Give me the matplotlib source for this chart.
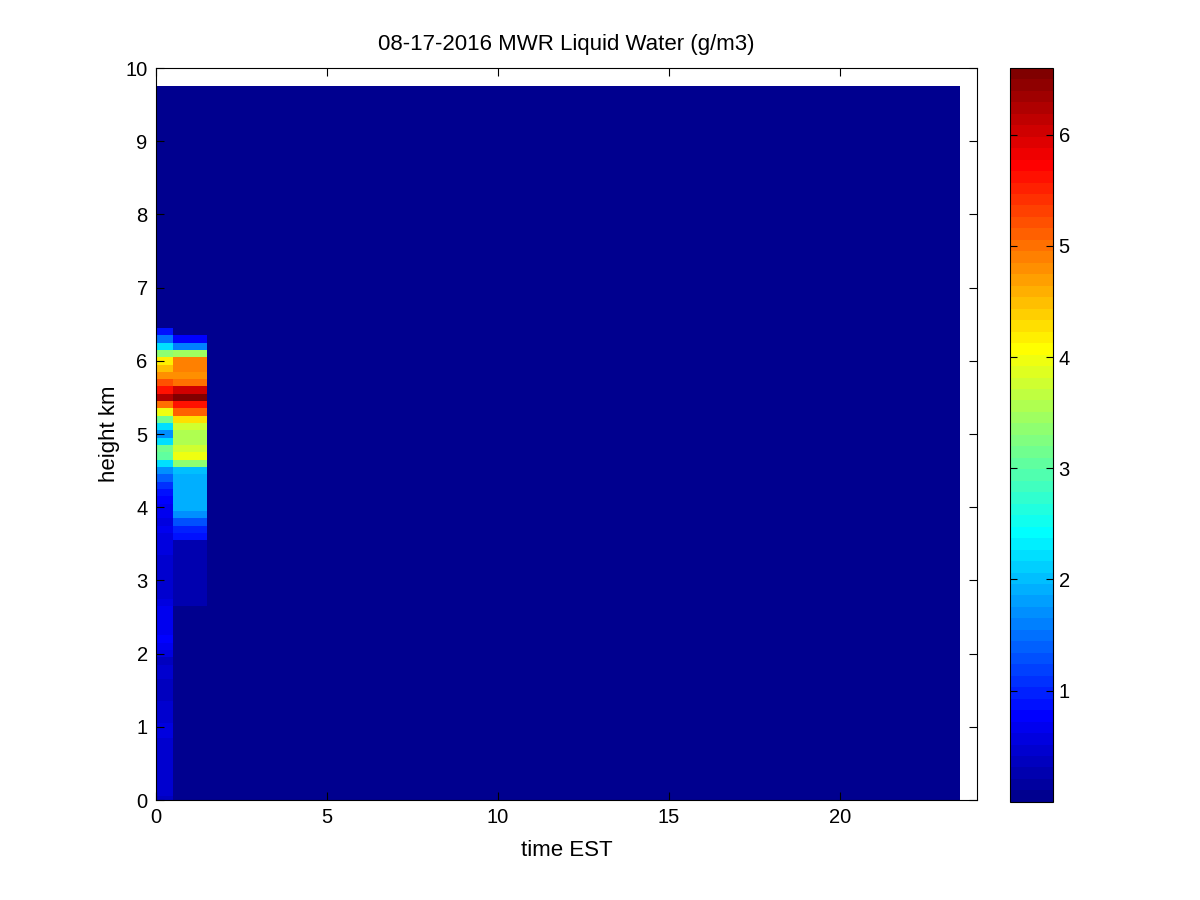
import numpy as np
import matplotlib
matplotlib.use("Agg")
import matplotlib.pyplot as plt
from matplotlib.colors import ListedColormap

plt.rcParams['font.family'] = ['Liberation Sans', 'DejaVu Sans']

# ---- data ----
time_hours = np.arange(0, 24)                 # hourly profiles (EST)
height_km = np.round(np.arange(0, 9.71, 0.1), 2)  # retrieval levels

background_lwc = 0.02

# liquid water profiles (g/m3), levels 0.0 .. 6.5 km
lwc_t0 = [0.40, 0.45, 0.45, 0.42, 0.45, 0.48, 0.45, 0.50, 0.48, 0.52,
          0.55, 0.50, 0.48, 0.45, 0.40, 0.38, 0.40, 0.42, 0.45, 0.40,
          0.60, 0.70, 0.75, 0.72, 0.68, 0.65, 0.62, 0.55, 0.50, 0.48,
          0.50, 0.50, 0.48, 0.50, 0.52, 0.55, 0.60, 0.62, 0.60, 0.62,
          0.66, 0.75, 0.85, 1.10, 1.40, 1.65, 2.20, 3.00, 3.10, 2.25,
          1.65, 2.25, 3.10, 4.00, 4.95, 6.25, 5.65, 5.20, 4.80, 4.50,
          4.20, 3.30, 2.20, 1.45, 0.85, 0.02]
lwc_t1 = [0.05, 0.05, 0.05, 0.05, 0.05, 0.05, 0.05, 0.05, 0.05, 0.05,
          0.05, 0.05, 0.05, 0.05, 0.05, 0.05, 0.05, 0.05, 0.05, 0.05,
          0.05, 0.05, 0.05, 0.05, 0.05, 0.05, 0.05, 0.22, 0.22, 0.22,
          0.22, 0.22, 0.22, 0.22, 0.22, 0.22, 0.90, 0.95, 1.30, 1.65,
          1.90, 1.95, 1.95, 1.95, 1.95, 2.00, 3.30, 4.00, 3.80, 3.60,
          3.55, 3.80, 4.30, 5.15, 5.65, 6.60, 6.00, 4.95, 4.80, 4.90,
          4.90, 3.45, 1.60, 0.80, 0.02, 0.02]

title = "08-17-2016 MWR Liquid Water (g/m3)"
xlabel = "time EST"
ylabel = "height km"
x_ticks = [0, 5, 10, 15, 20]
y_ticks = list(range(0, 11))
cbar_ticks = [1, 2, 3, 4, 5, 6]

# ---- grid ----
lwc = np.full((len(height_km), len(time_hours)), background_lwc)
lwc[:len(lwc_t0), 0] = lwc_t0
lwc[:len(lwc_t1), 1] = lwc_t1

x_edges = np.concatenate([[time_hours[0]], (time_hours[:-1] + time_hours[1:]) / 2,
                          [time_hours[-1] + 0.5]])
y_edges = np.concatenate([[height_km[0]], (height_km[:-1] + height_km[1:]) / 2,
                          [height_km[-1] + 0.05]])

# MATLAB-style jet(64)
xs = np.arange(1, 65) / 64.0
jet_r = np.clip(1.5 - np.abs(4 * xs - 3), 0, 1)
jet_g = np.clip(1.5 - np.abs(4 * xs - 2), 0, 1)
jet_b = np.clip(1.5 - np.abs(4 * xs - 1), 0, 1)
cmap = ListedColormap(np.column_stack([jet_r, jet_g, jet_b]))

fig = plt.figure(figsize=(12, 9), dpi=100)
fig.patch.set_facecolor('white')
ax = fig.add_axes([0.13, 0.111, 0.684, 0.8134])
mesh = ax.pcolormesh(x_edges, y_edges, lwc, cmap=cmap, vmin=0.0, vmax=6.6,
                     shading='flat')
ax.set_xlim(0, 24)
ax.set_ylim(0, 10)
ax.set_xticks(x_ticks)
ax.set_yticks(y_ticks)
ax.tick_params(direction='in', length=6, width=0.8, top=True, right=True,
               labelsize=14.5, pad=6)
for s in ax.spines.values():
    s.set_linewidth(0.8)
ax.set_title(title, fontsize=16, pad=13)
ax.set_xlabel(xlabel, fontsize=16, labelpad=9)
ax.set_ylabel(ylabel, fontsize=16, labelpad=4)

cax = fig.add_axes([0.8417, 0.109, 0.0358, 0.8156])
cb = fig.colorbar(mesh, cax=cax, ticks=cbar_ticks)
cb.outline.set_linewidth(0.8)
cax.tick_params(direction='in', length=5, width=0.8, left=True, right=True,
                labelsize=14.5, pad=4)

fig.savefig("out.png", dpi=100, facecolor='white')
